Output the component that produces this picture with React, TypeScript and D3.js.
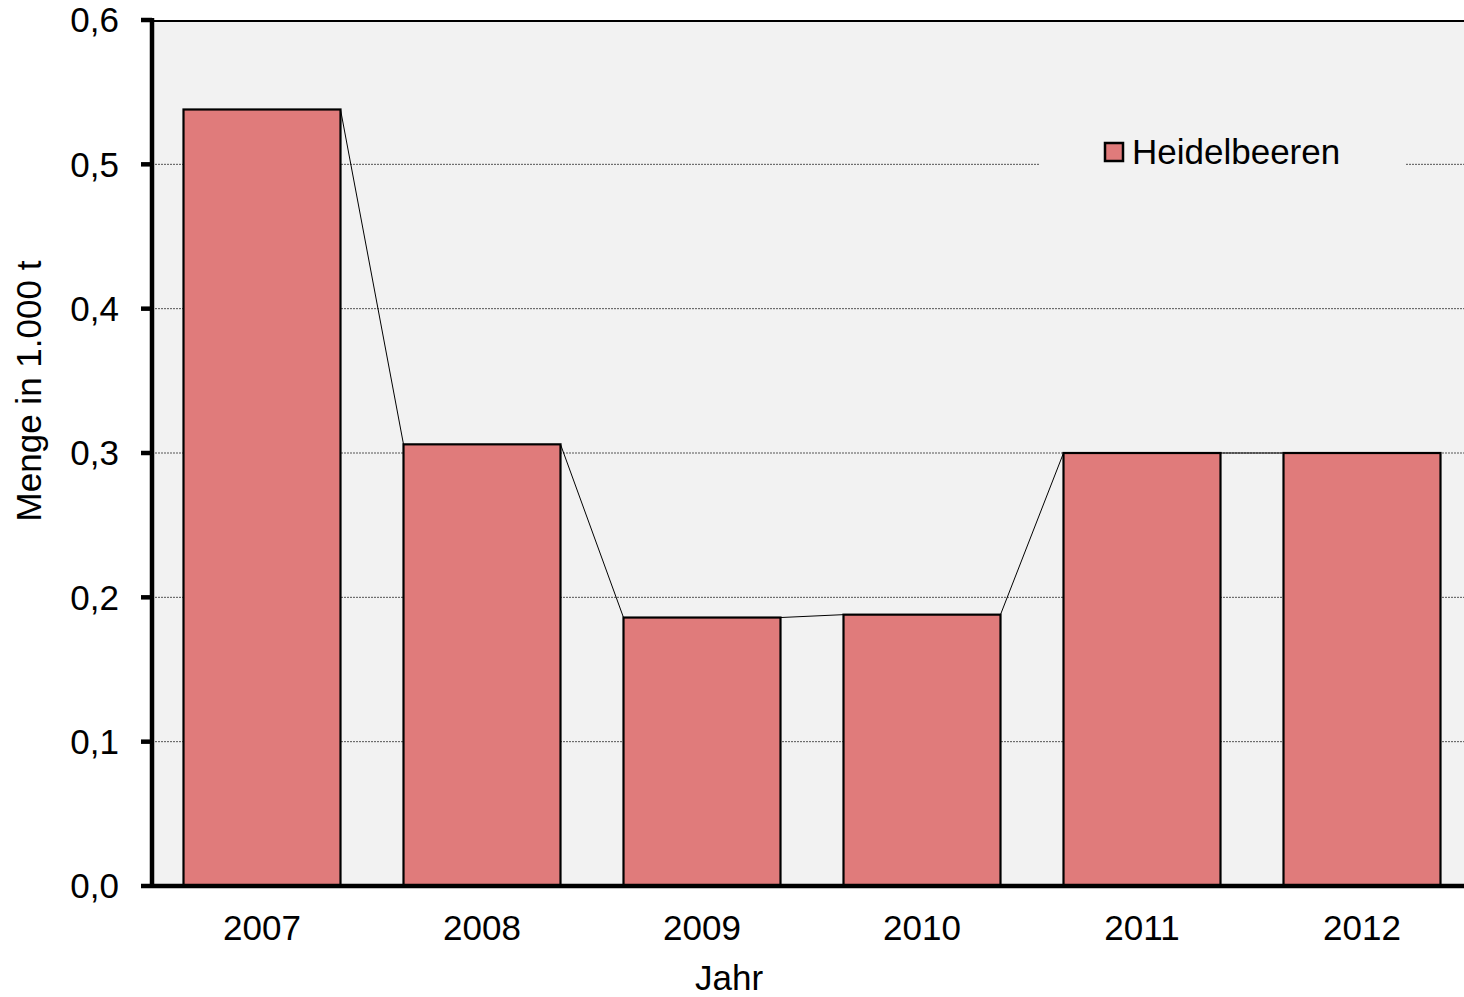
import React from "react";
import * as d3 from "d3";

const categories = ["2007", "2008", "2009", "2010", "2011", "2012"];
const values = [0.538, 0.306, 0.186, 0.188, 0.3, 0.3];
const yTicks = [0, 0.1, 0.2, 0.3, 0.4, 0.5, 0.6];
const seriesName = "Heidelbeeren";
const yTitle = "Menge in 1.000 t";
const xTitle = "Jahr";

const W = 1464;
const H = 997;
const left = 152;
const top = 20;
const bottom = 886;
const right = 1472;
const FONT = "'Liberation Sans', Arial, sans-serif";
const FS = 35;
const BAR = "#E07B7B";
const BG = "#F2F2F2";

export default function App() {
  const x = d3.scaleBand<string>().domain(categories).range([left, right]).paddingInner(0.2864).paddingOuter(0.1432);
  const y = d3.scaleLinear().domain([0, 0.6]).range([bottom, top]);
  const bw = x.bandwidth();
  const fmt = (v: number) => v.toFixed(1).replace(".", ",");

  const connectors = values.slice(0, -1).map((v, i) => ({
    x1: (x(categories[i]) as number) + bw,
    y1: y(v),
    x2: x(categories[i + 1]) as number,
    y2: y(values[i + 1]),
  }));

  return (
    <svg width={W} height={H} style={{ position: "fixed", left: 0, top: 0, background: "#fff" }} fontFamily={FONT}>
      <rect x={left} y={top} width={W - left} height={bottom - top} fill={BG} />
      {yTicks.filter((t) => t > 0 && t < 0.6).map((t) => (
        <line key={t} x1={left} x2={W} y1={y(t)} y2={y(t)} stroke="#555" strokeWidth={1} strokeDasharray="2,1" />
      ))}
      {/* legend background hides gridline */}
      <rect x={1040} y={130} width={365} height={46} fill={BG} />
      {connectors.map((c, i) => (
        <line key={i} x1={c.x1} y1={c.y1} x2={c.x2} y2={c.y2} stroke="#000" strokeWidth={1} />
      ))}
      {categories.map((c, i) => (
        <rect
          key={c}
          x={x(c)}
          y={y(values[i])}
          width={bw}
          height={bottom - y(values[i])}
          fill={BAR}
          stroke="#000"
          strokeWidth={2.2}
        />
      ))}
      {/* top border */}
      <line x1={left} x2={W} y1={top + 1} y2={top + 1} stroke="#000" strokeWidth={2} />
      {/* axes */}
      <line x1={left} x2={left} y1={top - 2} y2={bottom + 2} stroke="#000" strokeWidth={4.5} />
      <line x1={left} x2={W} y1={bottom} y2={bottom} stroke="#000" strokeWidth={4.5} />
      {yTicks.map((t) => (
        <g key={t}>
          <line x1={141} x2={left} y1={y(t)} y2={y(t)} stroke="#000" strokeWidth={4.5} />
          <text x={119} y={y(t)} dy="0.35em" textAnchor="end" fontSize={FS} fill="#000">
            {fmt(t)}
          </text>
        </g>
      ))}
      {categories.map((c) => (
        <text key={c} x={(x(c) as number) + bw / 2} y={940} textAnchor="middle" fontSize={FS} fill="#000">
          {c}
        </text>
      ))}
      <text x={729} y={990} textAnchor="middle" fontSize={FS} fill="#000">
        {xTitle}
      </text>
      <text transform={`translate(41,391) rotate(-90)`} textAnchor="middle" fontSize={FS} fill="#000">
        {yTitle}
      </text>
      {/* legend */}
      <rect x={1105} y={143} width={18} height={18} fill={BAR} stroke="#000" strokeWidth={2.5} />
      <text x={1132} y={164} fontSize={FS} fill="#000">
        {seriesName}
      </text>
    </svg>
  );
}
